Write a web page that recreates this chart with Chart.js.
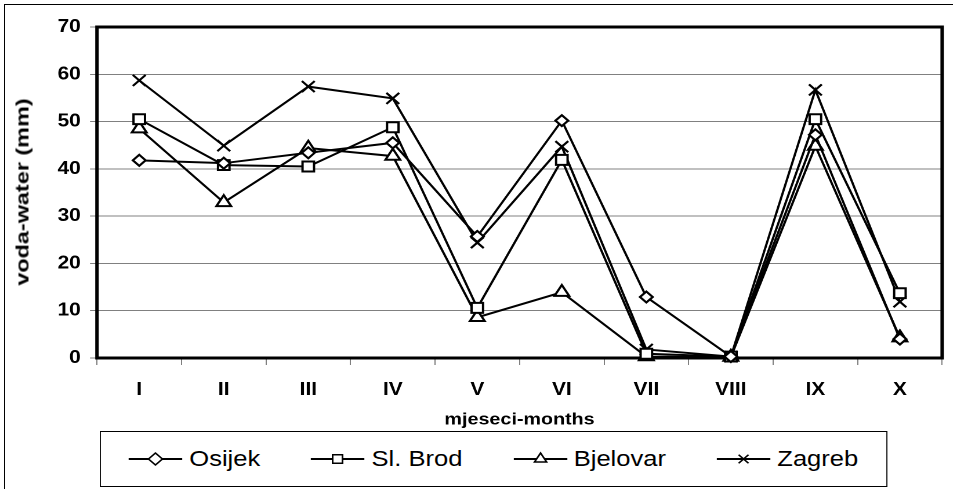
<!DOCTYPE html>
<html>
<head>
<meta charset="utf-8">
<script src="https://cdn.jsdelivr.net/npm/chart.js@4/dist/chart.umd.min.js"></script>
<style>
  html, body { margin: 0; padding: 0; background: #fff; width: 953px; height: 489px; overflow: hidden; }
  #frame { position: absolute; left: 4px; top: 4px; width: 1000px; height: 600px;
           border-left: 1px solid #000; border-top: 1px solid #000; }
  /* the whole figure is a bit wider than tall, so stretch it sideways */
  #wrap { position: absolute; left: 0; top: 0; width: 822px; height: 489px;
          transform: scaleX(1.16); transform-origin: 0 0; }
  #chart { position: absolute; left: 0; top: 0; }
  #ytitle { position: absolute; left: 22.5px; top: 192px; white-space: nowrap;
            font: bold 18px 'Liberation Sans', Arial, sans-serif; color: #000;
            transform: translate(-50%, -50%) rotate(-90deg) scaleX(1.3); }
  #legend { position: absolute; left: 86px; top: 431px; width: 677px; height: 54px;
            border: 1px solid #000; background: #fff; display: flex;
            justify-content: center; align-items: center;
            font: 22px 'Liberation Sans', Arial, sans-serif; color: #000; }
  .item { display: flex; align-items: center; margin: 0 22px; white-space: nowrap; }
  .item canvas { margin-right: 6px; }
</style>
</head>
<body>
<div id="frame"></div>
<div id="wrap">
  <canvas id="chart" width="822" height="489"></canvas>
  <div id="legend"></div>
</div>
<div id="ytitle">voda-water (mm)</div>
<script>
var months = ['I', 'II', 'III', 'IV', 'V', 'VI', 'VII', 'VIII', 'IX', 'X'];
var stations = ['Osijek', 'Sl. Brod', 'Bjelovar', 'Zagreb'];

// monthly water, mm
var osijek   = [41.8, 41.2, 43.4, 45.5, 25.7, 50.2, 12.9, 0.3, 47.2, 4.0];
var slBrod   = [50.5, 40.8, 40.5, 48.8, 10.6, 41.9, 0.9, 0.3, 50.5, 13.7];
var bjelovar = [48.5, 32.9, 44.4, 42.7, 8.6, 13.9, 0.3, 0.2, 44.8, 4.3];
var zagreb   = [58.7, 44.9, 57.4, 54.9, 24.4, 44.7, 1.8, 0.3, 56.7, 11.9];

var yTicks = [0, 10, 20, 30, 40, 50, 60, 70];

var series = [osijek, slBrod, bjelovar, zagreb];
var markers = ['rectRot', 'rect', 'triangle', 'crossRot'];
var markerRadius = [5.5, 7, 7.3, 7.8];
var fontFamily = "'Liberation Sans', Arial, sans-serif";

// heavy black box round the plot area, under the lines
var plotBorder = {
  id: 'plotBorder',
  beforeDatasetsDraw: function(chart) {
    var a = chart.chartArea;
    var c = chart.ctx;
    c.save();
    c.strokeStyle = '#000';
    c.lineWidth = 3;
    c.strokeRect(a.left, a.top, a.right - a.left, a.bottom - a.top);
    c.restore();
  }
};

var ctx = document.getElementById('chart').getContext('2d');
var myChart = new Chart(ctx, {
  type: 'line',
  data: {
    labels: months,
    datasets: series.map(function(values, i) {
      return {
        label: stations[i],
        data: values,
        borderColor: '#000',
        borderWidth: 2,
        tension: 0,
        pointStyle: markers[i],
        pointRadius: markerRadius[i],
        pointBorderWidth: 2,
        pointBorderColor: '#000',
        pointBackgroundColor: '#fff',
        clip: false
      };
    })
  },
  options: {
    responsive: false,
    animation: false,
    devicePixelRatio: 2,
    layout: { padding: { left: 3, right: 2, top: 27, bottom: 59 } },
    plugins: {
      legend: { display: false },
      tooltip: { enabled: false }
    },
    scales: {
      x: {
        offset: true,
        border: { display: false },
        grid: { offset: true, drawOnChartArea: false, tickLength: 7, color: '#808080' },
        ticks: {
          color: '#000', padding: 14, maxRotation: 0, autoSkip: false,
          font: { family: fontFamily, size: 18, weight: 'bold' }
        },
        title: {
          display: true, text: 'mjeseci-months', color: '#000',
          font: { family: fontFamily, size: 17, weight: 'bold' },
          padding: { top: 4, bottom: 0 }
        },
        afterFit: function(scale) { scale.height = 72; }
      },
      y: {
        min: 0,
        max: 70,
        border: { display: false },
        grid: { color: '#808080', lineWidth: 1, tickLength: 6, tickColor: '#808080' },
        afterBuildTicks: function(scale) {
          scale.ticks = yTicks.map(function(v) { return { value: v }; });
        },
        ticks: {
          color: '#000', padding: 8,
          font: { family: fontFamily, size: 18, weight: 'bold' }
        },
        // axis title is the #ytitle div; keep room for it here
        afterFit: function(scale) { scale.width = 80.6; }
      }
    }
  },
  plugins: [plotBorder]
});

// legend keys: a short line with the series marker in the middle
var legend = document.getElementById('legend');
stations.forEach(function(name, i) {
  var item = document.createElement('div');
  item.className = 'item';
  var key = document.createElement('canvas');
  key.width = 92;
  key.height = 40;
  key.style.width = '46px';
  key.style.height = '20px';
  var k = key.getContext('2d');
  k.scale(2, 2);
  k.strokeStyle = '#000';
  k.lineWidth = 2;
  k.beginPath();
  k.moveTo(0, 10);
  k.lineTo(46, 10);
  k.stroke();
  k.fillStyle = '#fff';
  k.lineWidth = 1.5;
  Chart.helpers.drawPoint(k, { pointStyle: markers[i], radius: 6, rotation: 0, borderWidth: 1.5 }, 23, 10);
  var label = document.createElement('span');
  label.textContent = name;
  item.appendChild(key);
  item.appendChild(label);
  legend.appendChild(item);
});
</script>
</body>
</html>
